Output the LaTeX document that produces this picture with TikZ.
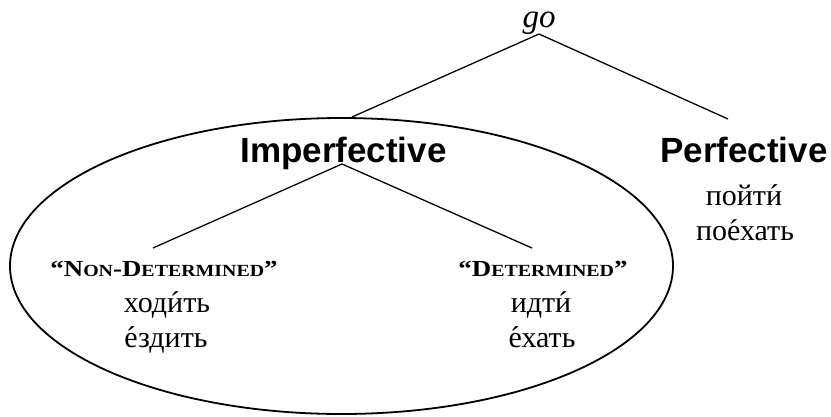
\documentclass[tikz,border=0pt]{standalone}
\usepackage{fontspec}
\setmainfont{Liberation Serif}
\newfontfamily\cyrfont{Liberation Serif}
\newfontfamily\headsans{Liberation Sans}
\newfontfamily\headserif{Liberation Serif}[FakeStretch=1.17]
\newcommand\mysc[1]{{\fontsize{17}{17}\selectfont #1}}
\newcommand\acu[1]{\accent"00B4 #1}
\begin{document}
\begin{tikzpicture}[x=1pt,y=-1pt,
  branch/.style={line width=1.3pt},
  ring/.style={line width=1.8pt},
  cat/.style={anchor=base,inner sep=0pt,font=\headsans\bfseries\fontsize{35}{35}\selectfont},
  sub/.style={anchor=base,inner sep=0pt,font=\headserif\bfseries\fontsize{23}{23}\selectfont},
  word/.style={anchor=base,inner sep=0pt,font=\cyrfont\fontsize{30}{30}\selectfont},
  root/.style={anchor=base,inner sep=0pt,font=\cyrfont\itshape\fontsize{33}{33}\selectfont}]
\useasboundingbox (0,0) rectangle (831,416);
\draw[ring] (341.5,266) ellipse [x radius=331.5pt, y radius=148pt];
% texts
\node[root] (go) at (539,27) {go};
\node[cat] (imp) at (343.5,162) {Imperfective};
\node[cat] (perf) at (744,162) {Perfective};
\node[word] (poiti) at (744,205) {пойт\acu{и}};
\node[word] (poekhat) at (745,240) {по\acu{е}хать};
\node[sub] (nondet) at (164,276) {“N\mysc{ON}-D\mysc{ETERMINED}”};
\node[word] (khodit) at (167,312) {ход\acu{и}ть};
\node[word] (ezdit) at (166,347) {\acu{е}здить};
\node[sub] (det) at (543,276) {“D\mysc{ETERMINED}”};
\node[word] (idti) at (541,312) {идт\acu{и}};
\node[word] (ekhat) at (542,347) {\acu{е}хать};
% connector ends
\coordinate (goA) at (539,34);
\coordinate (impTop) at (352,117);
\coordinate (perfTop) at (728,119);
\coordinate (impA) at (342,164);
\coordinate (ndTop) at (153,248);
\coordinate (dTop) at (532,248);
\draw[branch] (impTop) -- (goA) -- (perfTop);
\draw[branch] (ndTop) -- (impA) -- (dTop);
\end{tikzpicture}
\end{document}
